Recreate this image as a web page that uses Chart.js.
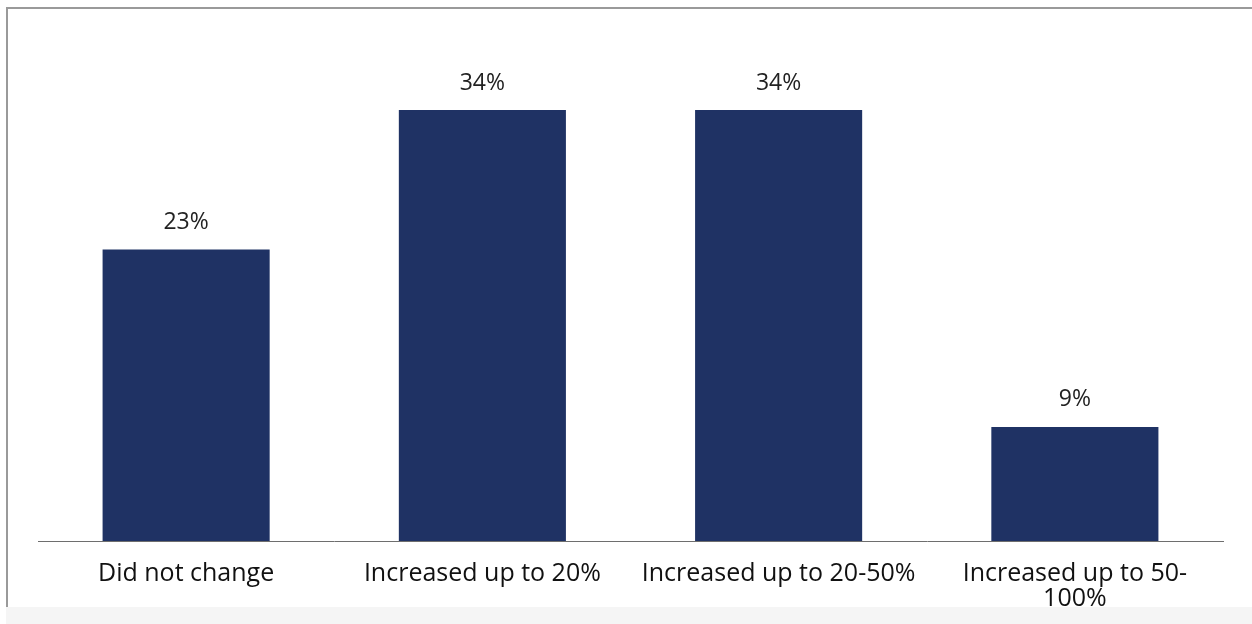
<!DOCTYPE html>
<html>
<head>
<meta charset="utf-8">
<script src="https://cdn.jsdelivr.net/npm/chart.js@4"></script>
<style>
  html, body { margin: 0; padding: 0; background: #fff; }
  #frame {
    position: absolute; left: 6px; top: 7px; width: 1246px; height: 598px;
    border-left: 2px solid #9a9a9a; border-top: 2px solid #9a9a9a; background: #fff;
  }
  #strip { position: absolute; left: 6px; top: 607px; width: 1246px; height: 17px; background: #f5f5f5; }
  #wrap { position: absolute; left: 0; top: 0; width: 1252px; height: 624px; }
</style>
</head>
<body>
<div id="frame"></div>
<div id="strip"></div>
<div id="wrap"><canvas id="grafica" width="1252" height="624"></canvas></div>
<script>
// categorias y porcentajes
const categorias = ['Did not change', 'Increased up to 20%', 'Increased up to 20-50%', ['Increased up to 50-', '100%']]
const porcentajes = [23, 34, 34, 9]

const fuente = "'Open Sans', 'Lato', sans-serif"

// etiqueta con el valor encima de cada barra
const etiquetas = {
    id: 'etiquetas',
    afterDatasetsDraw(chart) {
        const ctx = chart.ctx
        const meta = chart.getDatasetMeta(0)
        ctx.save()
        ctx.font = '23px ' + fuente
        ctx.fillStyle = '#222'
        ctx.textAlign = 'center'
        ctx.textBaseline = 'middle'
        meta.data.forEach((bar, i) => {
            ctx.fillText(porcentajes[i] + '%', bar.x, bar.y - 27)
        })
        ctx.restore()
    }
}

const ctx = document.getElementById('grafica').getContext('2d')
let chart = new Chart(ctx, {
    type: 'bar',
    data: {
        labels: categorias,
        datasets: [{
            data: porcentajes,
            backgroundColor: '#1f3264',
            categoryPercentage: 1,
            barPercentage: 0.564
        }]
    },
    options: {
        responsive: false,
        animation: false,
        layout: { padding: { left: 38, right: 29, top: 34, bottom: 0 } },
        plugins: { legend: { display: false }, tooltip: { enabled: false } },
        scales: {
            y: { display: false, min: 0, max: 40 },
            x: {
                grid: { display: false, drawTicks: false },
                border: { display: true, color: '#6e6e6e', width: 1 },
                ticks: { color: '#111', font: { family: fuente, size: 25, lineHeight: 1.0 }, padding: 20, maxRotation: 0, autoSkip: false },
                afterFit(scale) { scale.height = 83 }
            }
        }
    },
    plugins: [etiquetas]
})
</script>
</body>
</html>
